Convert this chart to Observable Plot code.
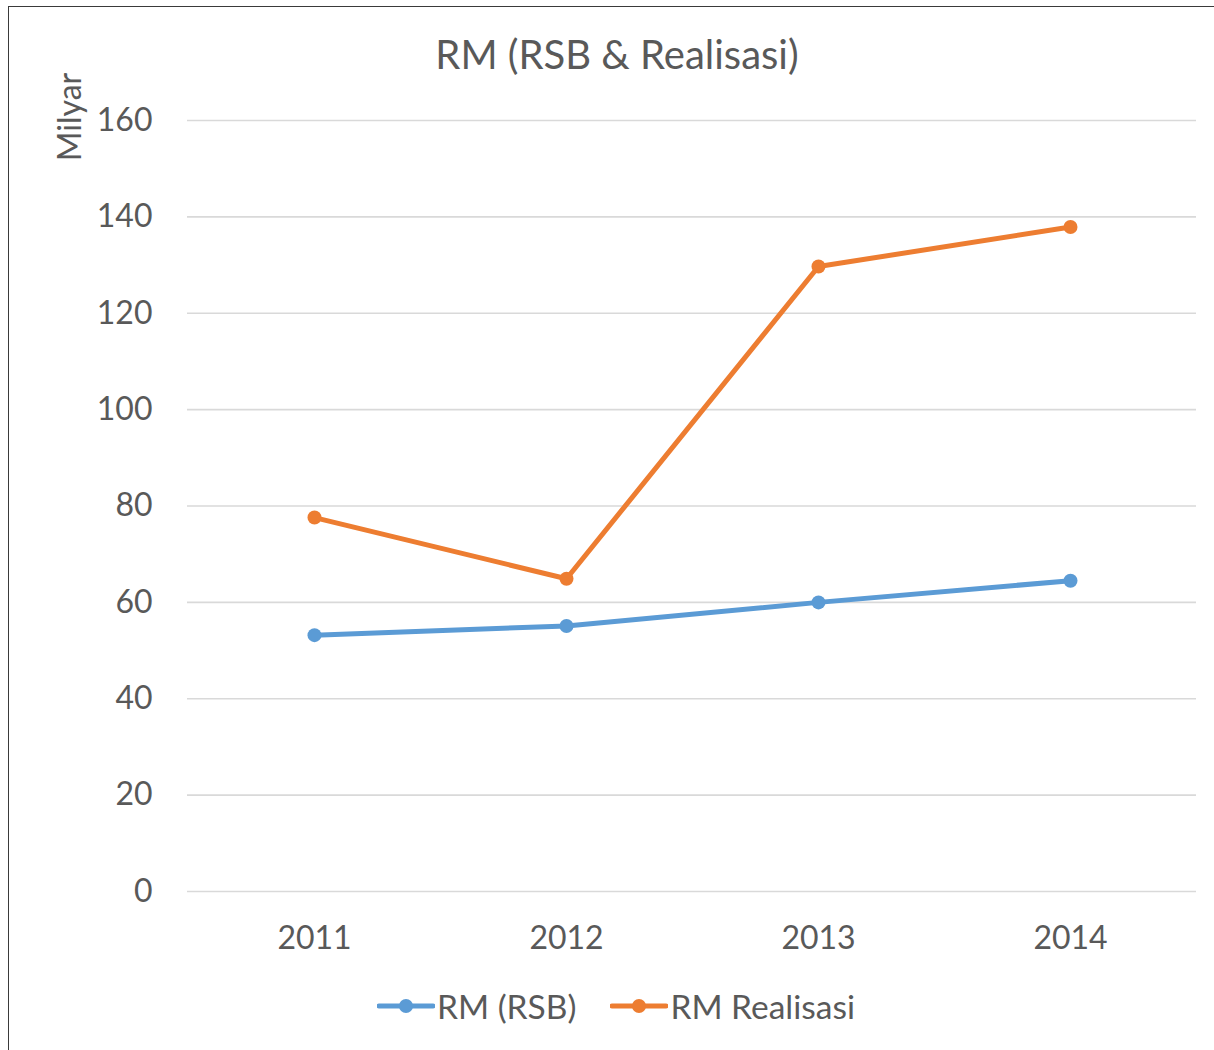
<!DOCTYPE html>
<html>
<head>
<meta charset="utf-8">
<script src="https://cdn.jsdelivr.net/npm/d3@7"></script>
<script src="https://cdn.jsdelivr.net/npm/@observablehq/plot@0.6"></script>
<style>
  html, body { margin: 0; padding: 0; background: #fff; overflow: hidden; }
  #wrap { position: relative; width: 1214px; height: 1050px; overflow: hidden; font-family: Lato, "Open Sans", sans-serif; color: #595959; }
  #frame { position: absolute; left: 8px; top: 6px; width: 1400px; height: 1200px; border: 1.5px solid #3a3a3a; box-sizing: border-box; }
  #title { position: absolute; left: 0; width: 1234px; top: 28px; text-align: center; font-size: 40px; line-height: 52px; }
  #ylabel { position: absolute; left: 68px; top: 117px; font-size: 32px; transform: translate(-50%, -50%) rotate(-90deg); white-space: nowrap; }
  #chart { position: absolute; left: 0; top: 90px; }
  #legend { position: absolute; left: 377px; top: 985px; display: flex; align-items: center; font-size: 33.5px; line-height: 42px; white-space: nowrap; }
  #legend .item { display: flex; align-items: center; }
  #legend svg { display: block; }
</style>
</head>
<body>
<div id="wrap">
  <div id="frame"></div>
  <div id="title">RM (RSB &amp; Realisasi)</div>
  <div id="ylabel">Milyar</div>
  <div id="chart"></div>
  <div id="legend"></div>
</div>
<script>
const years = ["2011", "2012", "2013", "2014"];
const seriesNames = ["RM (RSB)", "RM Realisasi"];
const rsbValues = [53.2, 55.1, 60.0, 64.5];
const realisasiValues = [77.6, 64.9, 129.7, 137.9];
const yTicks = [0, 20, 40, 60, 80, 100, 120, 140, 160];
const colors = ["#5B9BD5", "#ED7D31"];

const data = [];
years.forEach((y, i) => data.push({year: y, value: rsbValues[i], series: seriesNames[0]}));
years.forEach((y, i) => data.push({year: y, value: realisasiValues[i], series: seriesNames[1]}));

const chart = Plot.plot({
  width: 1214,
  height: 880,
  marginTop: 30,
  marginBottom: 79,
  marginLeft: 187,
  marginRight: 18,
  style: {fontFamily: "Lato, 'Open Sans', sans-serif", fontSize: "32px", color: "#595959", background: "transparent", overflow: "visible"},
  x: {type: "point", domain: years, padding: 0.5, label: null},
  y: {domain: [0, 160], label: null},
  color: {domain: seriesNames, range: colors},
  marks: [
    Plot.gridY(yTicks, {stroke: "#d9d9d9", strokeOpacity: 1, strokeWidth: 1.6}),
    Plot.axisY(yTicks, {tickSize: 0, tickPadding: 35, label: null, fill: "#595959"}),
    Plot.axisX({tickSize: 0, tickPadding: 35, label: null, fill: "#595959"}),
    Plot.line(data, {x: "year", y: "value", z: "series", stroke: "series", strokeWidth: 5, strokeLinecap: "round", strokeLinejoin: "round"}),
    Plot.dot(data, {x: "year", y: "value", fill: "series", r: 7, stroke: "none"})
  ]
});
document.getElementById("chart").appendChild(chart);

const legend = document.getElementById("legend");
seriesNames.forEach((name, i) => {
  const item = document.createElement("div");
  item.className = "item";
  item.style.marginRight = i === 0 ? "34px" : "0";
  item.innerHTML = `<svg width="58" height="20"><line x1="2" y1="10" x2="56" y2="10" stroke="${colors[i]}" stroke-width="5" stroke-linecap="round"/><circle cx="29" cy="10" r="7" fill="${colors[i]}"/></svg><span style="margin-left:2px">${name}</span>`;
  legend.appendChild(item);
});
</script>
</body>
</html>
